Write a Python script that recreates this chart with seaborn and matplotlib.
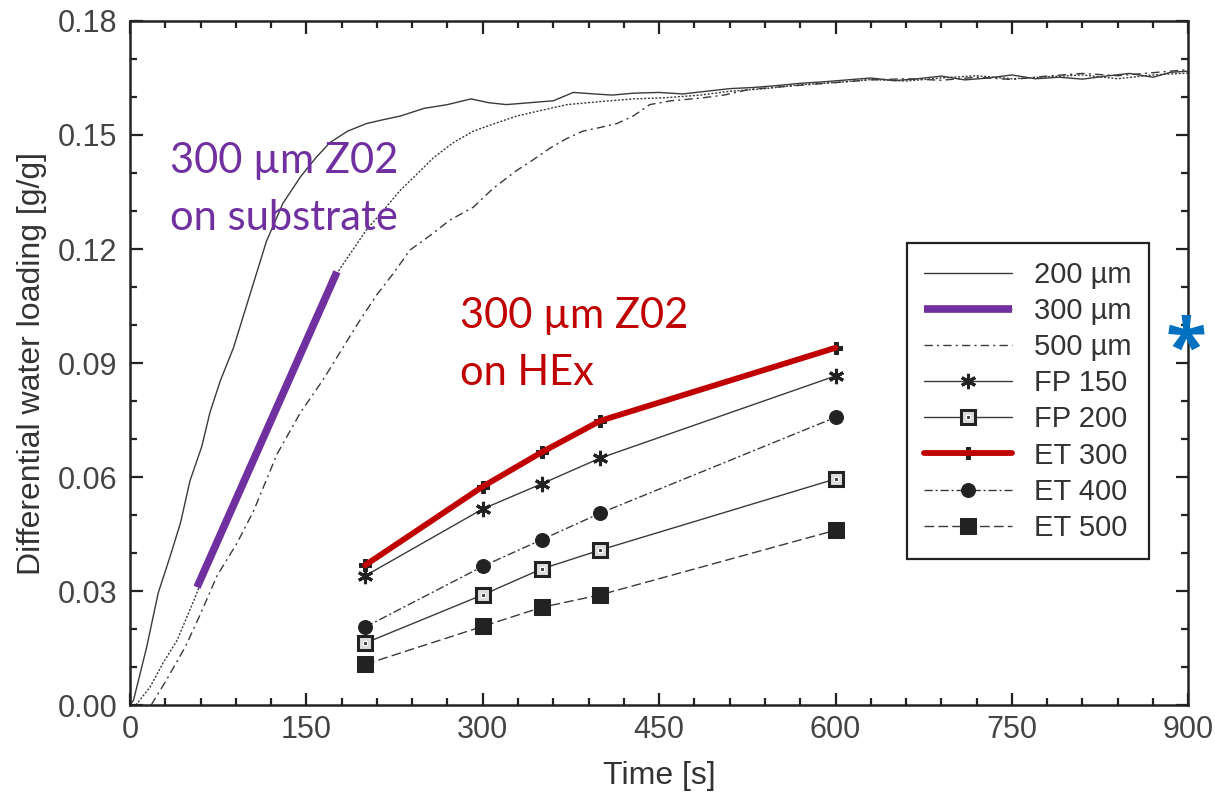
import matplotlib
matplotlib.use("Agg")
import matplotlib.pyplot as plt
import seaborn as sns
from matplotlib.legend_handler import HandlerTuple
from matplotlib.ticker import MultipleLocator

# uptake curves
t_200 = [0, 3, 14, 24, 34, 43, 51, 61, 68, 77, 88, 100, 116, 130, 145, 158, 170, 185, 201, 215,
         230, 250, 270, 290, 305, 320, 340, 360, 377, 395, 410, 428, 450, 470, 490, 510, 530, 550,
         570, 590, 610, 630, 650, 670, 690, 710, 730, 750, 770, 790, 810, 830, 850, 870, 885, 900]
w_200 = [0, 0.0013, 0.015, 0.0295, 0.039, 0.048, 0.059, 0.068, 0.077, 0.0855, 0.094, 0.106, 0.122,
         0.132, 0.139, 0.144, 0.148, 0.151, 0.153, 0.154, 0.155, 0.157, 0.158, 0.1595, 0.1585, 0.158,
         0.1585, 0.159, 0.1612, 0.1608, 0.1605, 0.161, 0.1612, 0.1608, 0.1615, 0.1622, 0.1625, 0.163,
         0.1636, 0.164, 0.1645, 0.165, 0.1643, 0.1648, 0.1655, 0.1645, 0.165, 0.1658, 0.1648, 0.1652,
         0.1647, 0.1655, 0.1662, 0.1652, 0.1665, 0.1668]

t_300 = [5, 17, 28, 40, 55, 70, 85, 100, 115, 130, 145, 160, 176, 190, 201, 215, 230, 245, 258, 275,
         292, 310, 329, 350, 372, 400, 428, 455, 485, 510, 540, 570, 600, 630, 660, 690, 720, 750,
         780, 810, 840, 870, 900]
w_300 = [0, 0.0047, 0.011, 0.017, 0.028, 0.040, 0.0505, 0.061, 0.0715, 0.082, 0.0925, 0.103, 0.1136,
         0.12, 0.125, 0.13, 0.1355, 0.14, 0.144, 0.148, 0.151, 0.153, 0.155, 0.1565, 0.158, 0.1588,
         0.1595, 0.1598, 0.1605, 0.1615, 0.1622, 0.1632, 0.1638, 0.1646, 0.1642, 0.165, 0.1656,
         0.1648, 0.1653, 0.1658, 0.1648, 0.1658, 0.1663]

t_500 = [18, 31, 47, 60, 74, 91, 105, 125, 145, 164, 181, 195, 210, 225, 238, 255, 272, 292, 309,
         329, 343, 357, 371, 385, 400, 414, 428, 442, 460, 485, 505, 527, 550, 575, 600, 630, 660,
         690, 720, 750, 780, 810, 840, 870, 900]
w_500 = [0, 0.0066, 0.0153, 0.024, 0.034, 0.0426, 0.051, 0.066, 0.077, 0.0855, 0.094, 0.101, 0.108,
         0.114, 0.1197, 0.1235, 0.1276, 0.131, 0.136, 0.1407, 0.1435, 0.1465, 0.149, 0.151, 0.152,
         0.153, 0.155, 0.158, 0.159, 0.1597, 0.1605, 0.162, 0.1626, 0.1632, 0.1638, 0.1645, 0.1648,
         0.1644, 0.1652, 0.1646, 0.1655, 0.1662, 0.1656, 0.1664, 0.1672]

# purple highlight segment on the 300 um curve
t_sub = [57, 176]
w_sub = [0.031, 0.114]

# heat exchanger points
t_hex = [200, 300, 350, 400, 600]
fp150 = [0.0340, 0.0516, 0.0582, 0.0650, 0.0866]
fp200 = [0.0163, 0.0290, 0.0358, 0.0408, 0.0595]
et300 = [0.0368, 0.0575, 0.0665, 0.0748, 0.0940]
et400 = [0.0205, 0.0365, 0.0435, 0.0505, 0.0757]
et500 = [0.0107, 0.0207, 0.0257, 0.0290, 0.0460]

labels = ["200 µm", "300 µm", "500 µm", "FP 150", "FP 200", "ET 300", "ET 400", "ET 500"]

PURPLE = "#7030A0"
RED = "#C00000"
BLUE = "#0070C0"
GREY = "#3a3a3a"

sns.set_style("ticks")
plt.rcParams["font.family"] = ["Liberation Sans", "DejaVu Sans"]

fig, ax = plt.subplots(figsize=(12.15, 7.98), dpi=100)
fig.subplots_adjust(left=0.107, right=0.978, top=0.9737, bottom=0.1165)

def line(x, y, **kw):
    sns.lineplot(x=x, y=y, ax=ax, errorbar=None, legend=False, **kw)
    return ax.lines[-1]

h200 = line(t_200, w_200, color=GREY, lw=1.0, linestyle="-")
h300 = line(t_300, w_300, color=GREY, lw=1.0, linestyle=(0, (1.5, 1.2)))
h500 = line(t_500, w_500, color=GREY, lw=1.0, linestyle=(0, (6, 3, 1.5, 3)))
hsub = line(t_sub, w_sub, color=PURPLE, lw=5.5, solid_capstyle="butt", zorder=4)

hfp150 = line(t_hex, fp150, color=GREY, lw=1.0, marker=(6, 2, 0), ms=11, mew=2.2, mec="#222222")
hfp200 = line(t_hex, fp200, color=GREY, lw=1.0, marker="s", ms=10, mew=2.2, mec="#222222", mfc="#dddddd")
hfp200d = line(t_hex, fp200, color="#444444", lw=0, marker="s", ms=3)
het300b = line(t_hex, et300, color=GREY, lw=1.0, marker="P", ms=9, mfc="#222222", mec="#222222")
het300 = line(t_hex, et300, color=RED, lw=4.2, zorder=4)
het400 = line(t_hex, et400, color=GREY, lw=1.0, linestyle=(0, (6, 2, 1.5, 2)), marker="o", ms=10,
              mfc="#222222", mec="#222222")
het500 = line(t_hex, et500, color=GREY, lw=1.0, linestyle=(0, (7, 3)), marker="s", ms=11,
              mfc="#222222", mec="#222222")

ax.set_xlim(0, 900)
ax.set_ylim(0, 0.18)
ax.xaxis.set_major_locator(MultipleLocator(150))
ax.xaxis.set_minor_locator(MultipleLocator(30))
ax.yaxis.set_major_locator(MultipleLocator(0.03))
ax.yaxis.set_minor_locator(MultipleLocator(0.01))
ax.yaxis.set_major_formatter(plt.FormatStrFormatter("%.2f"))

ax.tick_params(which="both", direction="in", top=True, right=True, width=1.6, color="#222222",
               labelsize=22, labelcolor="#444444")
ax.tick_params(which="major", length=9)
ax.tick_params(which="minor", length=5)
ax.tick_params(axis="y", pad=9)
ax.tick_params(axis="x", pad=7)
for sp in ax.spines.values():
    sp.set_linewidth(1.8)
    sp.set_color("#222222")

ax.set_xlabel("Time [s]", fontsize=23, color="#333333", labelpad=12)
ax.set_ylabel("Differential water loading [g/g]", fontsize=23, color="#333333", labelpad=8)

handles = [h200, (h300, hsub), h500, hfp150, (hfp200, hfp200d), (het300b, het300), het400, het500]
leg = ax.legend(handles, labels, loc="upper left", bbox_to_anchor=(0.734, 0.675), borderaxespad=0,
                fontsize=21, labelcolor="#333333", handlelength=3.0, handletextpad=0.75,
                labelspacing=0.28, borderpad=0.6, fancybox=False, framealpha=1,
                handler_map={tuple: HandlerTuple(ndivide=1)})
leg.get_frame().set_edgecolor("#222222")
leg.get_frame().set_linewidth(1.6)

ax.text(34, 0.140, "300 µm Z02", color=PURPLE, fontsize=30, family="Lato", va="baseline")
ax.text(34, 0.125, "on substrate", color=PURPLE, fontsize=30, family="Lato", va="baseline")
ax.text(281, 0.0992, "300 µm Z02", color=RED, fontsize=30, family="Lato", va="baseline")
ax.text(281, 0.0842, "on HEx", color=RED, fontsize=30, family="Lato", va="baseline")

ax.text(0.998, 0.488, "*", transform=ax.transAxes, color=BLUE, fontsize=54, family="Open Sans",
        fontweight="bold", ha="center", va="baseline")

fig.savefig("out.png", dpi=100)
